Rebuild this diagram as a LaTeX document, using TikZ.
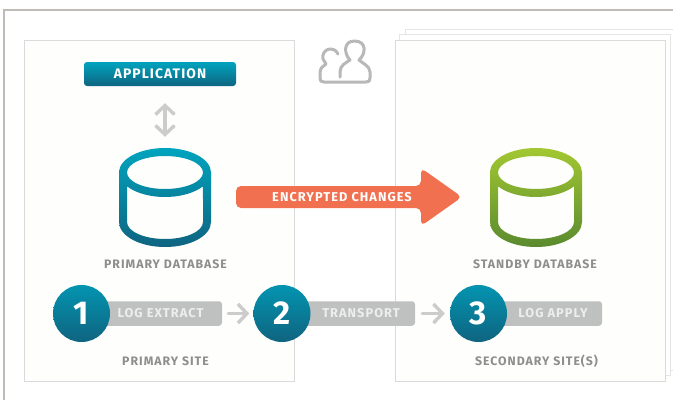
\documentclass[tikz,border=0pt]{standalone}
\usepackage{fontspec}
\setmainfont{Fira Sans}
\newfontfamily\labelfont[LetterSpace=8]{Fira Sans}
\usetikzlibrary{arrows.meta}
\definecolor{frameline}{HTML}{BFBCB8}
\definecolor{boxline}{HTML}{DADADA}
\definecolor{boxfill}{HTML}{FEFEFD}
\definecolor{tealtop}{HTML}{00A4BE}
\definecolor{tealend}{HTML}{0F6480}
\definecolor{stepmid}{HTML}{0394B0}
\definecolor{limetop}{HTML}{A3C832}
\definecolor{limeend}{HTML}{5A8A2E}
\definecolor{pillgray}{HTML}{BFC0C0}
\definecolor{labelgray}{HTML}{8E8E8E}
\definecolor{changes}{HTML}{F0704F}

% database drum: outline is a filled ring, so it can carry the gradient
\newcommand{\drum}[3]{
	\shade[top color=#2, bottom color=#3, even odd rule]
		(#1-46,172.5) arc[x radius=46, y radius=24.5, start angle=180, end angle=360]
		-- (#1+46,222) arc[x radius=46, y radius=25, start angle=0, end angle=180] -- cycle
		(#1-38,172.5) arc[x radius=38, y radius=16.5, start angle=180, end angle=-180] -- cycle
		(#1-38,186.3) arc[x radius=46, y radius=24.5, start angle=145.7, end angle=34.3]
		-- (#1+38,222) arc[x radius=38, y radius=17, start angle=0, end angle=180] -- cycle;
}

\begin{document}
\begin{tikzpicture}[x=1pt,y=-1pt,>={Straight Barb[length=9pt,width=19pt]}]
\tikzstyle{site}=[rectangle,draw=boxline,fill=boxfill,line width=1pt]
\tikzstyle{back}=[rectangle,draw=boxline!70,fill=white,line width=1pt]
\tikzstyle{app}=[rectangle,rounded corners=3pt,top color=tealtop,bottom color=tealend,minimum width=152pt,minimum height=24pt,text=white,font=\labelfont\fontsize{13.8}{15}\selectfont\bfseries]
\tikzstyle{caption}=[text=labelgray,font=\labelfont\fontsize{12.3}{14}\selectfont\bfseries]
\tikzstyle{pill}=[rectangle,rounded corners=3pt,fill=pillgray,minimum height=24.5pt,text=white!93!black,font=\labelfont\fontsize{12.8}{14}\selectfont\bfseries]
\tikzstyle{badge}=[circle,minimum size=57pt,inner sep=0pt,text=white,font=\fontsize{33}{36}\selectfont\bfseries,
	shade,top color=stepmid,middle color=stepmid,bottom color=tealend,shading angle=0]
\tikzstyle{flow}=[draw=black!20,line width=3.4pt,line cap=round,line join=round]
\tikzstyle{icon}=[draw=black!28,line width=3pt,line cap=round,line join=round]

	\useasboundingbox (0,0) rectangle (673,400);
	\fill[white] (0,0) rectangle (673,400);
	\draw[frameline,line width=2.6pt] (4,400) -- (4,10) -- (673,10);

	\draw[back] (405,29) rectangle (677,370);
	\draw[back] (399,34) rectangle (670,375);
	\node[site,minimum width=270pt,minimum height=341pt] (primary) at (159,210.5) {};
	\node[site,minimum width=270pt,minimum height=341pt] (secondary) at (530,210.5) {};

	% people icon
	\draw[icon] (338,54) .. controls (336,50) and (333,49) .. (331,49)
		.. controls (324,49) and (322,55) .. (323,59)
		.. controls (324,61) and (325,62) .. (326,64)
		.. controls (323,66) and (320,68) .. (320,73)
		-- (320,78) .. controls (320,81) and (321,82) .. (324,82)
		-- (366,82) .. controls (369,82) and (370,81) .. (370,78)
		-- (370,72) .. controls (370,66) and (362,63) .. (359,60)
		.. controls (366,54) and (367,41) .. (354.5,41)
		.. controls (343,41) and (344,54) .. (350,60)
		.. controls (346,63) and (340,65) .. (340,72) -- (340,77);

	\node[app] (application) at (160,74) {APPLICATION};
	\node[minimum width=92pt,minimum height=99pt,inner sep=0pt] (primarydb) at (165,197.5) {};
	\node[minimum width=92pt,minimum height=99pt,inner sep=0pt] (standbydb) at (536,197.5) {};
	\drum{165}{tealtop}{tealend}
	\drum{536}{limetop}{limeend}
	\draw[<->,flow,shorten <=11pt,shorten >=17pt] (primarydb.north) -- (primarydb.north |- application.south);

	\fill[changes,rounded corners=5pt] (236,186) -- (421,186) -- (421,168) -- (462,197) -- (421,226) -- (421,208) -- (236,208) -- cycle;
	\node[text=white,font=\labelfont\fontsize{12.8}{14}\selectfont\bfseries] (encrypted) at (342,197) {ENCRYPTED CHANGES};

	\node[caption] (primarydblabel) at (165.5,264) {PRIMARY DATABASE};
	\node[caption] (standbydblabel) at (535,264) {STANDBY DATABASE};
	\node[caption] (primarylabel) at (165.5,361) {PRIMARY SITE};
	\node[caption] (secondarylabel) at (536.5,361) {SECONDARY SITE(S)};

	\node[pill,minimum width=122pt] (extract) at (161,313.5) {\hspace*{-1pt}LOG EXTRACT};
	\node[pill,minimum width=115pt] (transport) at (357.5,313.5) {\hspace*{7pt}TRANSPORT};
	\node[pill,minimum width=107pt] (apply) at (548.5,313.5) {\hspace*{9pt}LOG APPLY};
	\node[badge] (one) at (81.5,313.5) {1};
	\node[badge] (two) at (282,313.5) {2};
	\node[badge] (three) at (478.5,313.5) {3};

	\draw[->,flow,shorten >=4pt,shorten <=6pt] (extract) -- (two);
	\draw[->,flow,shorten >=5pt,shorten <=7pt] (transport) -- (three);
\end{tikzpicture}
\end{document}
